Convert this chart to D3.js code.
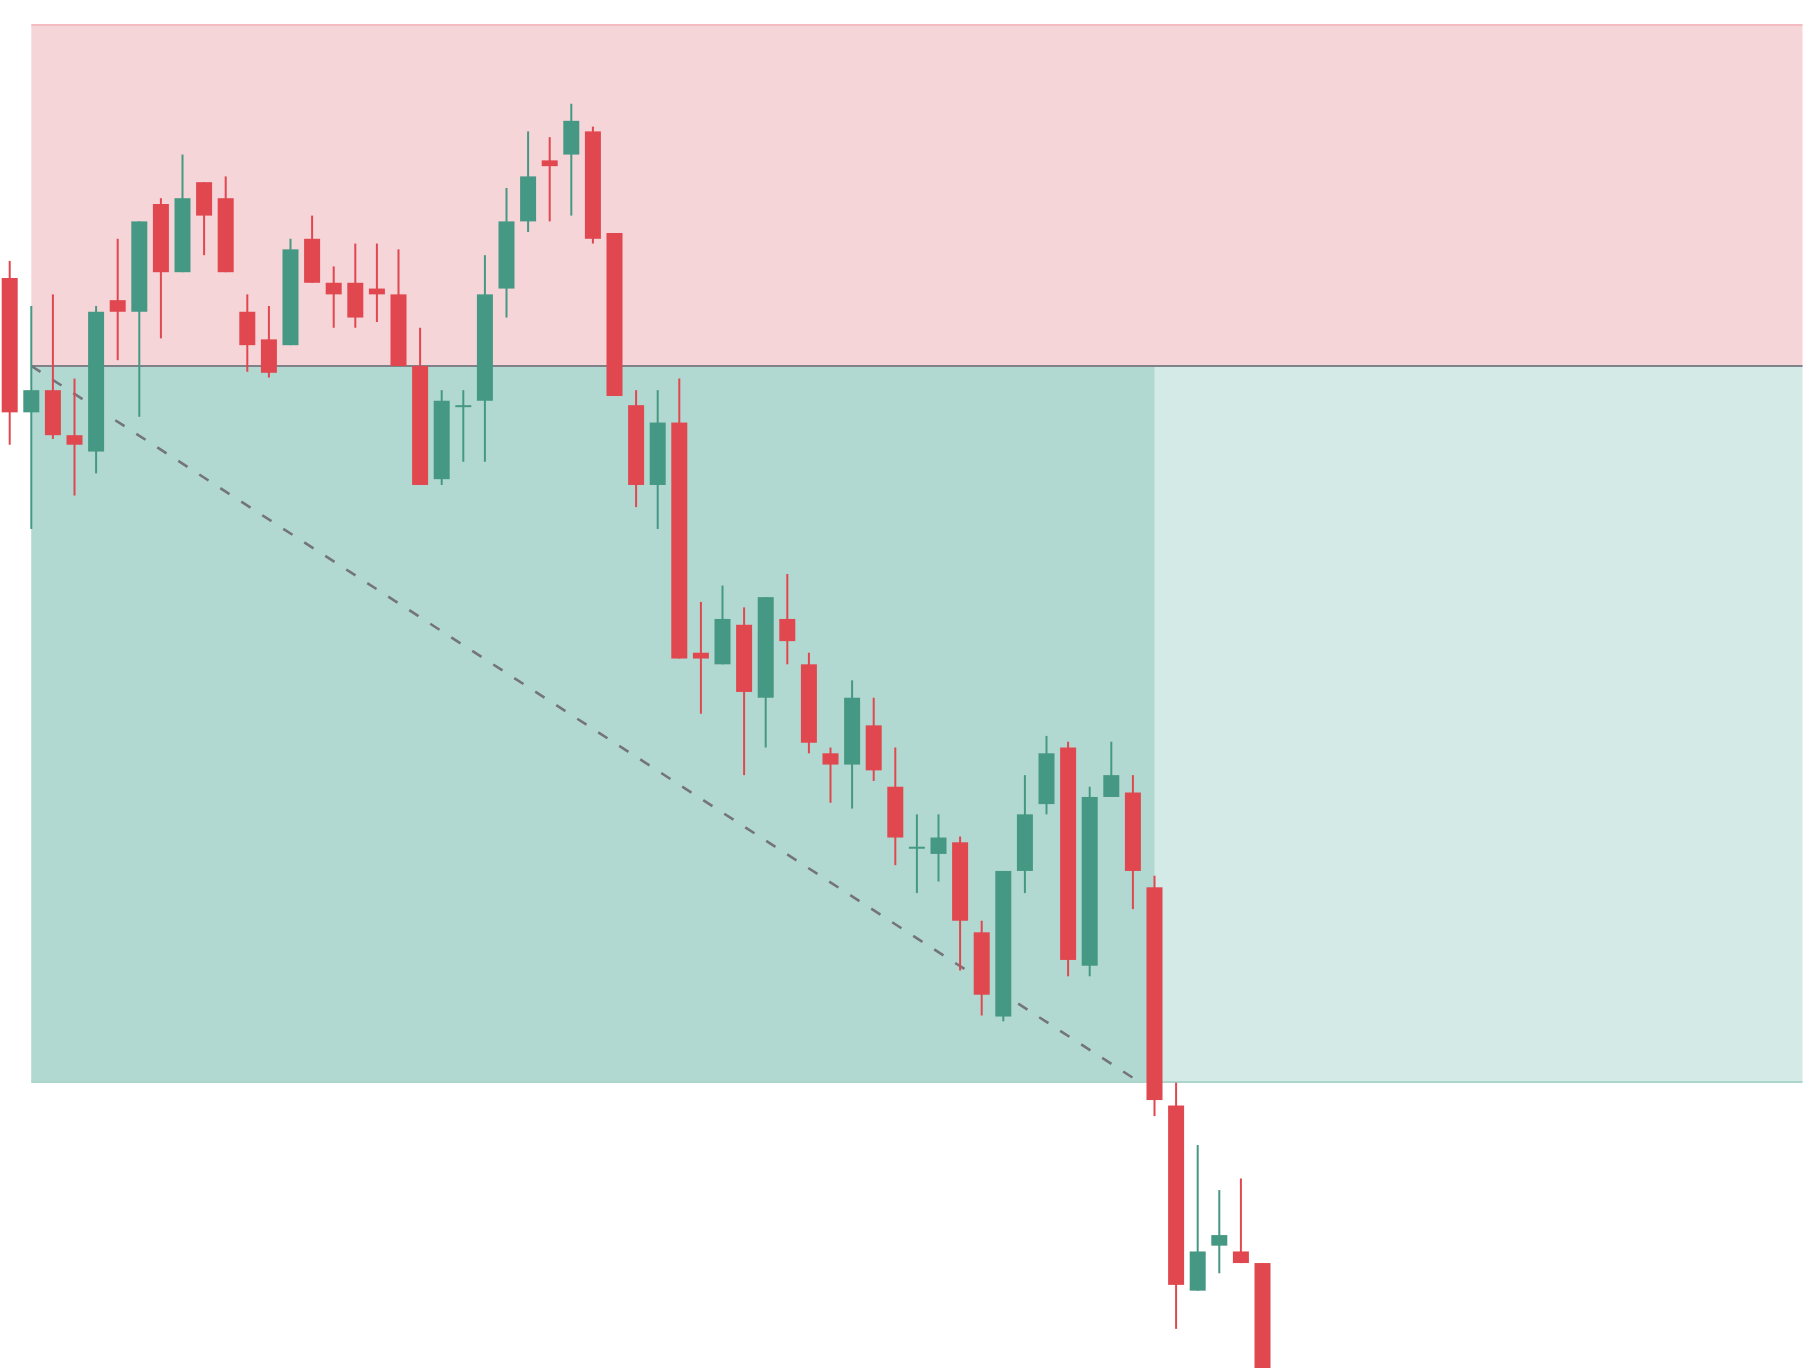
<!DOCTYPE html>
<html>
<head>
<meta charset="utf-8">
<script src="https://cdn.jsdelivr.net/npm/d3@7"></script>
<style>
  body { margin: 0; background: #fff; }
  svg { display: block; }
</style>
</head>
<body>
<div id="chart"></div>
<script>
// OHLC bars, one entry per candle
var opens = [102.58, 98.64, 99.29, 97.97, 97.49, 101.93, 101.59, 104.75, 102.75, 105.39,
  104.92, 101.59, 100.78, 100.61, 103.73, 102.44, 102.44, 102.27, 102.10, 100.00,
  96.68, 98.81, 98.98, 102.27, 104.24, 106.03, 106.20, 106.88, 103.90, 98.85,
  96.51, 98.34, 91.59, 91.25, 92.41, 90.27, 92.58, 91.25, 88.64, 88.31,
  89.46, 87.66, 85.86, 85.69, 86.03, 83.39, 80.92, 85.19, 87.15, 88.81,
  82.41, 87.36, 87.49, 84.71, 78.31, 72.88, 74.20, 74.03, 73.69];
var highs = [103.08, 101.76, 102.10, 99.63, 101.76, 103.73, 104.24, 104.92, 106.20, 105.39,
  105.56, 102.10, 101.76, 103.73, 104.41, 102.92, 103.59, 103.59, 103.42, 101.12,
  99.29, 99.29, 103.25, 105.22, 106.88, 106.71, 107.69, 107.02, 103.90, 99.29,
  99.29, 99.63, 93.08, 93.56, 92.92, 93.22, 93.90, 91.59, 88.81, 90.78,
  90.27, 88.81, 86.85, 86.85, 86.20, 83.73, 85.19, 88.00, 89.15, 88.98,
  87.66, 88.98, 88.00, 85.05, 78.98, 77.15, 75.83, 76.17, 73.69];
var lows = [97.69, 95.22, 97.86, 96.20, 96.85, 100.17, 98.51, 100.81, 102.75, 103.25,
  102.75, 99.83, 99.66, 100.61, 102.44, 101.12, 101.12, 101.29, 100.00, 96.51,
  96.51, 97.19, 97.19, 101.42, 103.93, 104.24, 104.41, 103.59, 99.12, 95.86,
  95.22, 91.42, 89.80, 91.25, 88.00, 88.81, 91.25, 88.64, 87.19, 87.02,
  87.83, 85.36, 84.54, 84.88, 82.27, 80.95, 80.78, 84.54, 86.85, 82.10,
  82.10, 87.36, 84.07, 78.00, 71.76, 72.88, 73.39, 73.69, 69.00];
var closes = [98.64, 99.29, 97.97, 97.69, 101.59, 101.59, 104.24, 102.75, 104.92, 104.41,
  102.75, 100.61, 99.80, 103.42, 102.44, 102.10, 101.42, 102.10, 100.00, 96.51,
  98.98, 98.85, 102.10, 104.24, 105.56, 105.86, 107.19, 103.73, 99.12, 96.51,
  98.34, 91.42, 91.42, 92.58, 90.44, 93.22, 91.93, 88.95, 88.31, 90.27,
  88.14, 86.17, 85.90, 86.17, 83.73, 81.56, 85.19, 86.85, 88.64, 82.58,
  87.36, 88.00, 85.19, 78.47, 73.05, 74.03, 74.51, 73.69, 69.05];

// short position tool: entry, stop, target and the bars it spans
var entryPrice = 100;
var stopPrice = 110;
var targetPrice = 79;
var startBar = 1;
var hitBar = 53;
var endBar = 83;

var width = 1810, height = 1368;
var upColor = '#459883', downColor = '#e0474f';

var candles = opens.map(function(o, i) {
  return {i: i, open: o, high: highs[i], low: lows[i], close: closes[i]};
});

var x = d3.scaleLinear().domain([0, endBar]).range([9.7, 9.7 + 21.6 * endBar]);
var y = d3.scaleLinear().domain([targetPrice, stopPrice]).range([1082, 25]);
var bodyW = 16;

var svg = d3.select('#chart')
    .append('svg')
    .attr('width', width)
    .attr('height', height);

// stop zone
svg.append('rect')
    .attr('x', x(startBar))
    .attr('y', y(stopPrice))
    .attr('width', x(endBar) - x(startBar))
    .attr('height', y(entryPrice) - y(stopPrice))
    .attr('fill', '#f6d5d8');
svg.append('line')
    .attr('x1', x(startBar)).attr('x2', x(endBar))
    .attr('y1', y(stopPrice)).attr('y2', y(stopPrice))
    .attr('stroke', '#f2bcc1').attr('stroke-width', 2);

// target zone, darker part up to the bar where target was hit
svg.append('rect')
    .attr('x', x(startBar))
    .attr('y', y(entryPrice))
    .attr('width', x(endBar) - x(startBar))
    .attr('height', y(targetPrice) - y(entryPrice))
    .attr('fill', '#d4eae6');
svg.append('rect')
    .attr('x', x(startBar))
    .attr('y', y(entryPrice))
    .attr('width', x(hitBar) - x(startBar))
    .attr('height', y(targetPrice) - y(entryPrice))
    .attr('fill', '#b2d9d1');
svg.append('line')
    .attr('x1', x(startBar)).attr('x2', x(endBar))
    .attr('y1', y(targetPrice)).attr('y2', y(targetPrice))
    .attr('stroke', '#aad6cc').attr('stroke-width', 2);

// entry line
svg.append('line')
    .attr('x1', x(startBar)).attr('x2', x(endBar))
    .attr('y1', y(entryPrice)).attr('y2', y(entryPrice))
    .attr('stroke', '#818189').attr('stroke-width', 2);

// path from entry to target
svg.append('line')
    .attr('x1', x(startBar)).attr('y1', y(entryPrice))
    .attr('x2', x(hitBar) - 12).attr('y2', y(targetPrice) + 2)
    .attr('stroke', '#74747c')
    .attr('stroke-width', 2.6)
    .attr('stroke-dasharray', '11,14');

var g = svg.append('g').selectAll('g')
    .data(candles)
    .enter()
    .append('g');

g.append('line')
    .attr('x1', function(d) { return x(d.i); })
    .attr('x2', function(d) { return x(d.i); })
    .attr('y1', function(d) { return y(d.high); })
    .attr('y2', function(d) { return y(d.low); })
    .attr('stroke', function(d) { return d.close >= d.open ? upColor : downColor; })
    .attr('stroke-width', 2);

g.append('rect')
    .attr('x', function(d) { return x(d.i) - bodyW / 2; })
    .attr('y', function(d) { return y(Math.max(d.open, d.close)); })
    .attr('width', bodyW)
    .attr('height', function(d) {
      return Math.max(2, Math.abs(y(d.open) - y(d.close)));
    })
    .attr('fill', function(d) { return d.close >= d.open ? upColor : downColor; });
</script>
</body>
</html>
